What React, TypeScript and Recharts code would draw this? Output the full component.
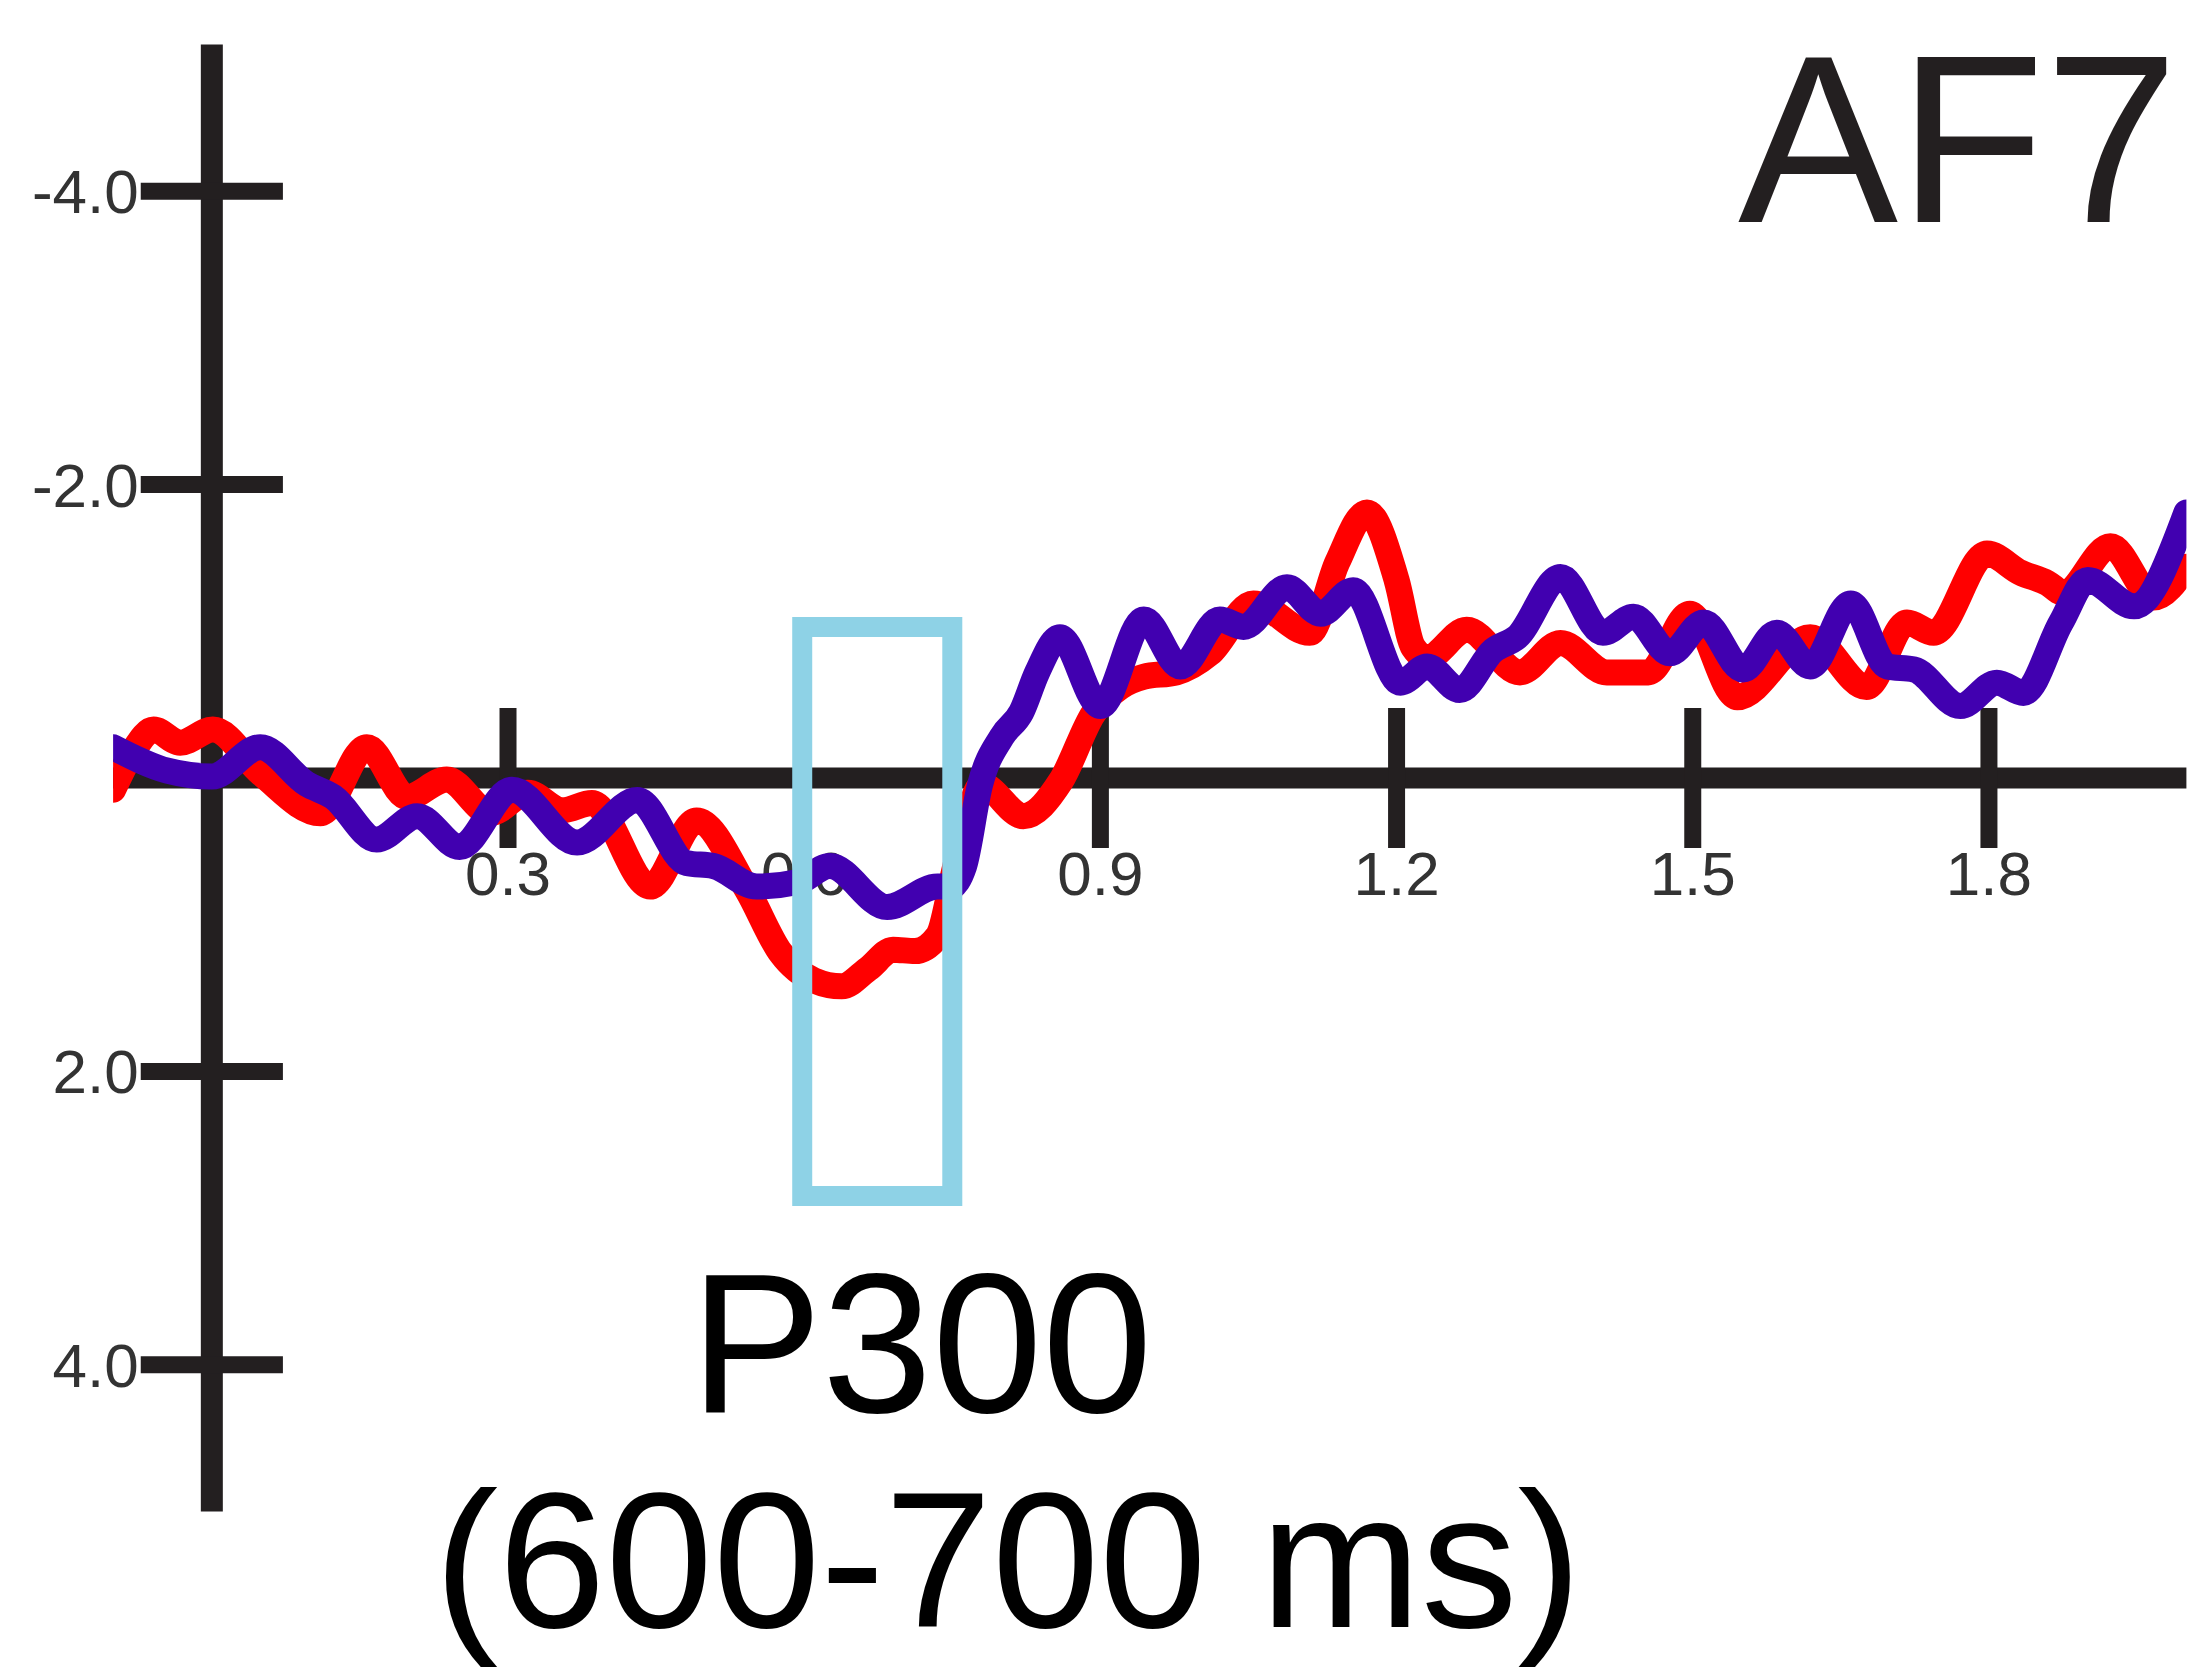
import { LineChart, Line, XAxis, YAxis, ReferenceLine, ReferenceArea, ReferenceDot } from "recharts";

const W = 2193;
const H = 1678;

const AXIS = "#231f20";
const LABEL = "#333333";
const RED = "#ff0000";
const PURPLE = "#4100b0";
const BOX = "#8ed2e6";
const FONT = "'Liberation Sans', Arial, sans-serif";

// time (s) / amplitude (µV), negative up
const redTrace: [number, number][] = [
  [-0.1, 0.08], [-0.08, -0.18], [-0.059, -0.33], [-0.032, -0.24], [0.001, -0.33],
  [0.05, -0.03], [0.11, 0.24], [0.157, -0.21], [0.198, 0.13], [0.238, 0.01],
  [0.282, 0.24], [0.32, 0.1], [0.355, 0.22], [0.385, 0.17], [0.444, 0.74],
  [0.491, 0.29], [0.542, 0.76], [0.576, 1.19], [0.61, 1.38], [0.638, 1.42],
  [0.665, 1.3], [0.69, 1.17], [0.712, 1.18], [0.735, 1.08], [0.755, 0.55],
  [0.78, 0.05], [0.822, 0.26], [0.86, 0.02], [0.893, -0.44], [0.92, -0.62],
  [0.944, -0.69], [0.977, -0.72], [1.011, -0.85], [1.055, -1.19], [1.112, -0.99],
  [1.14, -1.47], [1.17, -1.81], [1.2, -1.35], [1.217, -0.89], [1.231, -0.82],
  [1.271, -1.01], [1.325, -0.72], [1.366, -0.92], [1.413, -0.72], [1.455, -0.72],
  [1.497, -1.12], [1.545, -0.55], [1.619, -0.96], [1.676, -0.62], [1.717, -1.06],
  [1.744, -0.99], [1.798, -1.53], [1.832, -1.4], [1.859, -1.33], [1.876, -1.26],
  [1.923, -1.58], [1.967, -1.23], [2.0, -1.44],
];

const purpleTrace: [number, number][] = [
  [-0.1, -0.21], [-0.045, -0.05], [0.0, -0.01], [0.049, -0.21], [0.096, 0.04],
  [0.123, 0.13], [0.167, 0.42], [0.208, 0.26], [0.251, 0.47], [0.304, 0.08],
  [0.37, 0.44], [0.431, 0.15], [0.481, 0.58], [0.508, 0.6], [0.552, 0.74],
  [0.593, 0.71], [0.626, 0.6], [0.684, 0.88], [0.735, 0.74], [0.748, 0.74],
  [0.762, 0.6], [0.778, 0.05], [0.8, -0.28], [0.82, -0.45], [0.836, -0.72],
  [0.859, -0.96], [0.9, -0.49], [0.944, -1.08], [0.981, -0.76], [1.021, -1.08],
  [1.045, -1.03], [1.089, -1.3], [1.123, -1.12], [1.156, -1.28], [1.204, -0.65],
  [1.231, -0.76], [1.264, -0.6], [1.298, -0.87], [1.322, -0.96], [1.366, -1.37],
  [1.409, -0.99], [1.44, -1.1], [1.477, -0.85], [1.511, -1.06], [1.551, -0.74],
  [1.585, -0.99], [1.619, -0.76], [1.66, -1.19], [1.697, -0.76], [1.724, -0.74],
  [1.771, -0.49], [1.808, -0.65], [1.835, -0.58], [1.873, -1.06], [1.9, -1.35],
  [1.947, -1.17], [2.0, -1.81],
];

const xTicks = [0.3, 0.6, 0.9, 1.2, 1.5, 1.8];
const yTicks = [-4, -2, 2, 4];
const timeDomain = [-0.1, 2.0];
const ampDomain = [-5, 5];
// P300 window box (s, µV)
const p300Time = [0.598, 0.75];
const p300Amp = [-1.03, 2.85];

const toRows = (trace: [number, number][]) => trace.map(([t, v]) => ({ t, v }));

// tick half-lengths in data units
const X_TICK_HALF = 0.477;
const Y_TICK_HALF = 0.072;
const X_LABEL_V = 0.8;

const lineStyle = {
  type: "monotone" as const,
  strokeWidth: 26,
  strokeLinecap: "round" as const,
  strokeLinejoin: "round" as const,
  dot: false,
  activeDot: false,
  isAnimationActive: false,
};

export default function App() {
  return (
    <div style={{ position: "absolute", left: 0, top: 0, width: W, height: H, background: "#fff" }}>
      <LineChart width={W} height={H} margin={{ top: 44.5, right: 6.6, bottom: 166.5, left: 113.1 }}>
        <XAxis type="number" dataKey="t" domain={timeDomain} hide allowDataOverflow />
        <YAxis type="number" domain={ampDomain} reversed hide allowDataOverflow />

        <ReferenceLine y={0} stroke={AXIS} strokeWidth={21} zIndex={100} />
        <ReferenceLine x={0} stroke={AXIS} strokeWidth={22} zIndex={100} />

        {xTicks.map((t) => (
          <ReferenceLine
            key={`xt${t}`}
            segment={[{ x: t, y: -X_TICK_HALF }, { x: t, y: X_TICK_HALF }]}
            stroke={AXIS}
            strokeWidth={t === 0.6 ? 4 : 17}
            zIndex={100}
          />
        ))}
        {xTicks.map((t) => (
          <ReferenceDot
            key={`xl${t}`}
            x={t}
            y={X_LABEL_V}
            r={0}
            zIndex={150}
            shape={(p: any) => (
              <text x={p.cx} y={p.cy} textAnchor="middle" fontSize={62} fontFamily={FONT} fill={LABEL}>
                {t.toFixed(1)}
              </text>
            )}
          />
        ))}

        {yTicks.map((v) => (
          <ReferenceLine
            key={`yt${v}`}
            segment={[{ x: -Y_TICK_HALF, y: v }, { x: Y_TICK_HALF, y: v }]}
            stroke={AXIS}
            strokeWidth={17}
            zIndex={100}
            label={{ value: v.toFixed(1), position: "left", offset: 2, fontSize: 62, fontFamily: FONT, fill: LABEL }}
          />
        ))}

        <Line data={toRows(redTrace)} dataKey="v" stroke={RED} zIndex={400} {...lineStyle} />
        <Line data={toRows(purpleTrace)} dataKey="v" stroke={PURPLE} zIndex={410} {...lineStyle} />

        <ReferenceArea
          x1={p300Time[0]}
          x2={p300Time[1]}
          y1={p300Amp[0]}
          y2={p300Amp[1]}
          fill="none"
          fillOpacity={0}
          stroke={BOX}
          strokeWidth={20}
          zIndex={600}
        />
      </LineChart>

      <svg width={W} height={H} style={{ position: "absolute", left: 0, top: 0, pointerEvents: "none" }}>
        <text x={1738} y={222} fontSize={240} fontFamily={FONT} fill={AXIS}>AF7</text>
        <text x={690} y={1412} fontSize={198} fontFamily={FONT} fill="#000">P300</text>
        <text x={434} y={1627} fontSize={193} fontFamily={FONT} fill="#000">(600-700 ms)</text>
      </svg>
    </div>
  );
}
